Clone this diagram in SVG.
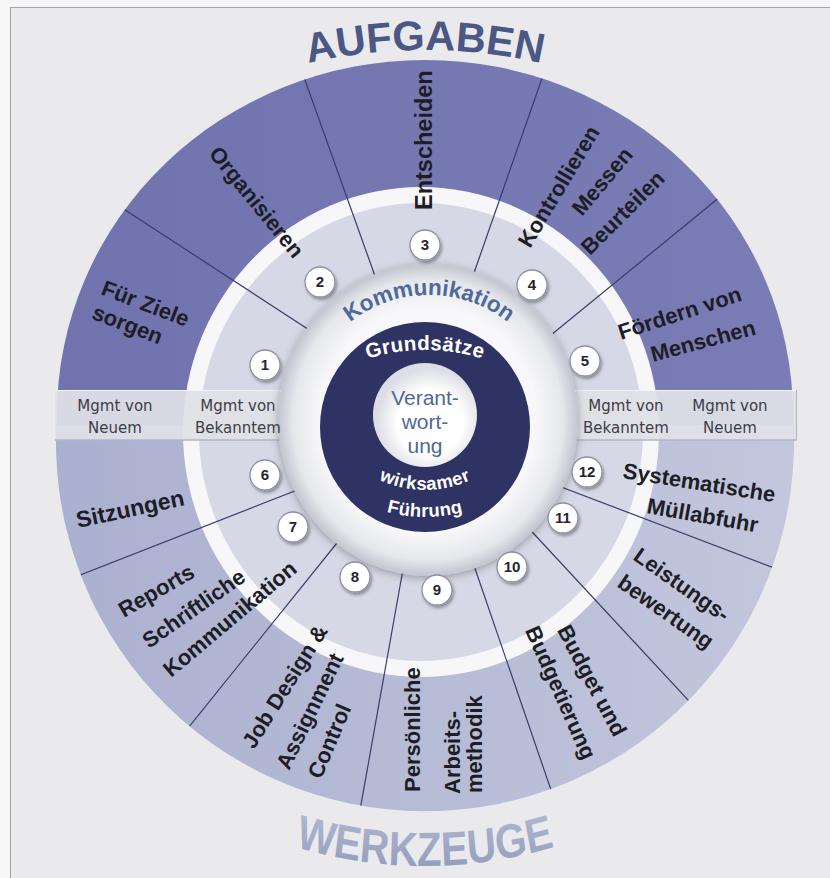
<svg xmlns="http://www.w3.org/2000/svg" width="830" height="878" viewBox="0 0 830 878">
<defs>
  <style>
    .seg{font-family:"Liberation Sans",Arial,sans-serif;font-weight:bold;font-size:22px;fill:#1d1d26}
    .band{font-family:"DejaVu Sans",sans-serif;font-size:15px;fill:#3c3d46;text-anchor:middle}
    .num{font-family:"Liberation Sans",Arial,sans-serif;font-weight:bold;font-size:15px;fill:#25252d;text-anchor:middle}
    .ncirc{fill:#ffffff;stroke:#8c90a2;stroke-width:1.3}
    .spoke{stroke:#3a3d68;stroke-width:1.2;fill:none}
    .core{font-family:"Liberation Sans",Arial,sans-serif;font-weight:bold;font-size:18.5px;fill:#ffffff;letter-spacing:0.4px}
    .verant{font-family:"Liberation Sans",Arial,sans-serif;font-size:21px;fill:#4f6a96;text-anchor:middle}
  </style>
  <linearGradient id="gBottom" x1="0" y1="0" x2="1" y2="0">
    <stop offset="0" stop-color="#aab0cf"/>
    <stop offset="1" stop-color="#c3c7dd"/>
  </linearGradient>
  <linearGradient id="gTop" x1="0" y1="0" x2="1" y2="0">
    <stop offset="0" stop-color="#7073ad"/>
    <stop offset="1" stop-color="#7a7cb6"/>
  </linearGradient>
  <radialGradient id="gKomm" cx="0.5" cy="0.5" r="0.5">
    <stop offset="0.72" stop-color="#f8f8fa"/>
    <stop offset="0.9" stop-color="#e6e7ec"/>
    <stop offset="1" stop-color="#c3c5cf"/>
  </radialGradient>
  <radialGradient id="gInner" cx="430" cy="422" r="54" gradientUnits="userSpaceOnUse">
    <stop offset="0.6" stop-color="#ffffff"/>
    <stop offset="1" stop-color="#dcdde5"/>
  </radialGradient>
  <linearGradient id="gWerk" x1="0" y1="0" x2="0" y2="1">
    <stop offset="0" stop-color="#b4bcd3"/>
    <stop offset="1" stop-color="#8f9abb"/>
  </linearGradient>
  <filter id="sh" x="-50%" y="-50%" width="200%" height="200%">
    <feDropShadow dx="1.5" dy="2.5" stdDeviation="1.8" flood-color="#000000" flood-opacity="0.35"/>
  </filter>
  <filter id="shK" x="-20%" y="-20%" width="140%" height="140%">
    <feDropShadow dx="0" dy="2" stdDeviation="4" flood-color="#000000" flood-opacity="0.3"/>
  </filter>
  <clipPath id="wheelClip">
    <path d="M57,415 A368,355 0 0 1 793,415 L793,425 L57,425 Z"/>
    <path d="M57,415 A369,369 0 1 0 793,415 Z"/>
  </clipPath>
  <path id="pAuf" d="M-95,570 A520,520 0 0 1 945,570"/>
  <path id="pWerk" d="M-108,418 A533,448 0 0 0 958,418"/>
  <path id="pKomm" d="M301,423 A128,128 0 0 1 557,423"/>
  <path id="pGrund" d="M235,540 A190,190 0 0 1 615,540"/>
  <path id="pWirk" d="M315,380 A110,110 0 0 0 535,380"/>
  <path id="pFuehr" d="M275,367 A150,150 0 0 0 575,367"/>
</defs>

<rect x="0" y="0" width="830" height="878" fill="#f6f6f6"/>
<rect x="10.5" y="7.5" width="830" height="880" fill="#eaeaec" stroke="#a3a3a7" stroke-width="1"/>

<g id="title-aufgaben">
  <text font-family="Liberation Sans, Arial, sans-serif" font-weight="bold" font-size="41.5" fill="#4b5785"><textPath href="#pAuf" startOffset="50%" text-anchor="middle">AUFGABEN</textPath></text>
</g>
<g id="title-werkzeuge" transform="translate(425,0) scale(0.84,1) translate(-425,0)">
  <text font-family="Liberation Sans, Arial, sans-serif" font-weight="bold" font-size="48" fill="url(#gWerk)"><textPath href="#pWerk" startOffset="50%" text-anchor="middle">WERKZEUGE</textPath></text>
</g>

<g id="wheel">
  <path id="werkzeuge-half" d="M57,415 A369,369 0 1 0 793,415 Z" fill="url(#gBottom)"/>
  <path id="aufgaben-half" d="M57,415 A368,355 0 0 1 793,415 L793,425 L57,425 Z" fill="url(#gTop)"/>
  <ellipse id="white-ring" cx="421" cy="432" rx="238" ry="245" fill="#f7f7fa"/>
  <ellipse id="tool-ring" cx="421" cy="432" rx="222" ry="229" fill="#d6d8e5"/>
</g>

<g id="connectors" clip-path="url(#wheelClip)">
  <line class="spoke" x1="320" y1="337" x2="52.6" y2="162.7"/>
  <line class="spoke" x1="380" y1="290" x2="288.8" y2="34.8"/>
  <line class="spoke" x1="468" y1="290" x2="557.5" y2="34"/>
  <line class="spoke" x1="540" y1="344" x2="785.5" y2="143.4"/>
  <line class="spoke" x1="305" y1="487" x2="13.4" y2="601.2"/>
  <line class="spoke" x1="345" y1="533" x2="148.9" y2="776.7"/>
  <line class="spoke" x1="405" y1="558" x2="350.2" y2="865.2"/>
  <line class="spoke" x1="469" y1="551" x2="570.5" y2="846.8"/>
  <line class="spoke" x1="522" y1="521" x2="734.3" y2="749.9"/>
  <line class="spoke" x1="548" y1="482" x2="840.5" y2="593.2"/>
</g>

<g id="band">
  <rect x="55" y="390" width="742" height="50" fill="#e0e1e7" opacity="0.93"/>
  <line x1="55" y1="390.5" x2="797" y2="390.5" stroke="#f3f3f6" stroke-width="1"/>
  <line x1="55" y1="440" x2="797" y2="440" stroke="#b4b6c2" stroke-width="1.5"/>
  <line x1="796.5" y1="390" x2="796.5" y2="440" stroke="#b4b6c2" stroke-width="1"/>
</g>

<g id="core">
  <ellipse id="komm-ring" cx="428" cy="420" rx="150" ry="156" fill="url(#gKomm)" filter="url(#shK)"/>
  <text font-family="Liberation Sans, Arial, sans-serif" font-weight="bold" font-size="22.5" fill="#4d6a9a"><textPath href="#pKomm" startOffset="50%" text-anchor="middle">Kommunikation</textPath></text>
  <circle id="grund-ring" cx="425" cy="427" r="105" fill="#2e3363"/>
  <circle id="verant-core" cx="425" cy="415" r="52" fill="url(#gInner)"/>
  <text class="core" style="font-size:20.5px"><textPath href="#pGrund" startOffset="50%" text-anchor="middle">Grundsätze</textPath></text>
  <text class="core"><textPath href="#pWirk" startOffset="50%" text-anchor="middle">wirksamer</textPath></text>
  <text class="core"><textPath href="#pFuehr" startOffset="50%" text-anchor="middle">Führung</textPath></text>
  <text class="verant" x="425" y="405">Verant-</text>
  <text class="verant" x="425" y="429">wort-</text>
  <text class="verant" x="425" y="453">ung</text>
</g>

<g id="band-labels">
  <g id="band-neu-left"><text class="band" x="115" y="411">Mgmt von</text><text class="band" x="115" y="433">Neuem</text></g>
  <g id="band-bek-left"><text class="band" x="238" y="411">Mgmt von</text><text class="band" x="238" y="433">Bekanntem</text></g>
  <g id="band-bek-right"><text class="band" x="626" y="411">Mgmt von</text><text class="band" x="626" y="433">Bekanntem</text></g>
  <g id="band-neu-right"><text class="band" x="730" y="411">Mgmt von</text><text class="band" x="730" y="433">Neuem</text></g>
</g>

<g id="seg-ziele"><text class="seg" transform="translate(100,294) rotate(21)"><tspan x="0" y="0">Für Ziele</tspan><tspan x="0" y="26">sorgen</tspan></text></g>
<g id="seg-organisieren"><text class="seg" transform="translate(208,154) rotate(51)">Organisieren</text></g>
<g id="seg-entscheiden"><text class="seg" style="font-size:23.5px" transform="translate(432,210) rotate(-90)">Entscheiden</text></g>
<g id="seg-kontrollieren">
  <text class="seg" transform="translate(530,249) rotate(-59)">Kontrollieren</text>
  <text class="seg" transform="translate(582,217) rotate(-50)">Messen</text>
  <text class="seg" transform="translate(590,256) rotate(-45)">Beurteilen</text>
</g>
<g id="seg-foerdern">
  <text class="seg" transform="translate(621,340) rotate(-18)">Fördern von</text>
  <text class="seg" transform="translate(653,362) rotate(-15)">Menschen</text>
</g>
<g id="seg-sitzungen"><text class="seg" style="font-size:23px" transform="translate(78,528) rotate(-12)">Sitzungen</text></g>
<g id="seg-reports">
  <text class="seg" transform="translate(124,618) rotate(-30)">Reports</text>
  <text class="seg" transform="translate(149,649) rotate(-35)">Schriftliche</text>
  <text class="seg" transform="translate(171,678) rotate(-40)">Kommunikation</text>
</g>
<g id="seg-job">
  <text class="seg" transform="translate(254,750) rotate(-58)">Job Design &amp;</text>
  <text class="seg" transform="translate(289,771) rotate(-64)">Assignment</text>
  <text class="seg" transform="translate(321,780) rotate(-67)">Control</text>
</g>
<g id="seg-persoenlich">
  <text class="seg" transform="translate(420,792) rotate(-90)">Persönliche</text>
  <text class="seg" transform="translate(460,794) rotate(-90)">Arbeits-</text>
  <text class="seg" transform="translate(482,793) rotate(-90)">methodik</text>
</g>
<g id="seg-budget">
  <text class="seg" text-anchor="end" transform="translate(614,738) rotate(62)">Budget und</text>
  <text class="seg" text-anchor="end" transform="translate(583,761) rotate(66)">Budgetierung</text>
</g>
<g id="seg-leistung">
  <text class="seg" transform="translate(632,559) rotate(35)">Leistungs-</text>
  <text class="seg" transform="translate(616,586) rotate(35)">bewertung</text>
</g>
<g id="seg-muell">
  <text class="seg" transform="translate(622,478) rotate(9)">Systematische</text>
  <text class="seg" transform="translate(646,513) rotate(10)">Müllabfuhr</text>
</g>

<g id="n1"><circle class="ncirc" cx="265" cy="365" r="15" filter="url(#sh)"/><text class="num" x="265" y="370">1</text></g>
<g id="n2"><circle class="ncirc" cx="320" cy="282" r="15" filter="url(#sh)"/><text class="num" x="320" y="287">2</text></g>
<g id="n3"><circle class="ncirc" cx="425" cy="245" r="15" filter="url(#sh)"/><text class="num" x="425" y="250">3</text></g>
<g id="n4"><circle class="ncirc" cx="532" cy="285" r="15" filter="url(#sh)"/><text class="num" x="532" y="290">4</text></g>
<g id="n5"><circle class="ncirc" cx="585" cy="361" r="15" filter="url(#sh)"/><text class="num" x="585" y="366">5</text></g>
<g id="n6"><circle class="ncirc" cx="265" cy="475" r="15" filter="url(#sh)"/><text class="num" x="265" y="480">6</text></g>
<g id="n7"><circle class="ncirc" cx="293" cy="527" r="15" filter="url(#sh)"/><text class="num" x="293" y="532">7</text></g>
<g id="n8"><circle class="ncirc" cx="355" cy="577" r="15" filter="url(#sh)"/><text class="num" x="355" y="582">8</text></g>
<g id="n9"><circle class="ncirc" cx="437" cy="590" r="15" filter="url(#sh)"/><text class="num" x="437" y="595">9</text></g>
<g id="n10"><circle class="ncirc" cx="512" cy="567" r="15" filter="url(#sh)"/><text class="num" x="512" y="572">10</text></g>
<g id="n11"><circle class="ncirc" cx="563" cy="518" r="15" filter="url(#sh)"/><text class="num" x="563" y="523">11</text></g>
<g id="n12"><circle class="ncirc" cx="587" cy="472" r="15" filter="url(#sh)"/><text class="num" x="587" y="477">12</text></g>
</svg>
